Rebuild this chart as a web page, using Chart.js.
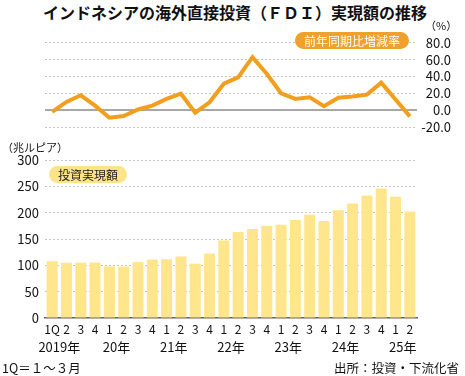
<!DOCTYPE html>
<html>
<head>
<meta charset="utf-8">
<script src="https://cdn.jsdelivr.net/npm/chart.js@4"></script>
<style>
  body { margin: 0; width: 465px; height: 376px; background: #fff; position: relative; overflow: hidden;
         font-family: 'Noto Sans CJK JP', 'Noto Sans', sans-serif; color: #111; }
  .abs { position: absolute; white-space: nowrap; }
  #title { left: 43px; top: 1px; font-size: 16px; font-weight: bold; line-height: 22px; }
  .pill { border-radius: 9px; font-size: 12px; line-height: 17px; text-align: center; }
  #pillRate { left: 295px; top: 32px; width: 114px; background: #F0A02C; color: #fff; }
  #pillAmount { left: 49px; top: 166px; width: 78px; background: #FDE48A; color: #222; }
  .small { font-size: 11px; line-height: 14px; }
  .foot { font-size: 12.5px; line-height: 16px; }
</style>
</head>
<body>
<div id="title" class="abs">インドネシアの海外直接投資（ＦＤＩ）実現額の推移</div>

<div class="abs" style="left:0;top:30px"><canvas id="rate" width="465" height="110"></canvas></div>
<div class="abs" style="left:0;top:140px"><canvas id="amount" width="465" height="220"></canvas></div>

<div class="abs small" style="left:425px;top:18px">（%）</div>
<div id="pillRate" class="abs pill">前年同期比増減率</div>
<div class="abs small" style="left:2px;top:140px">（兆ルピア）</div>
<div id="pillAmount" class="abs pill">投資実現額</div>
<div class="abs foot" style="left:2px;top:360px">1Q＝１～３月</div>
<div class="abs foot" style="right:6px;top:360px">出所：投資・下流化省</div>

<script>
// 2019年1Q 〜 2025年2Q
const quarters = ['1Q', '2', '3', '4', '1', '2', '3', '4', '1', '2', '3', '4', '1', '2', '3', '4',
                  '1', '2', '3', '4', '1', '2', '3', '4', '1', '2'];
const years = ['2019年', '20年', '21年', '22年', '23年', '24年', '25年'];

// 投資実現額（兆ルピア）
const amount = [107.9, 104.9, 105.0, 105.3, 98.0, 97.6, 106.1, 111.1, 111.7, 116.8, 103.2, 122.3,
                147.2, 163.2, 168.9, 175.2, 177.0, 186.3, 196.2, 184.4, 204.4, 217.3, 232.7, 245.8,
                230.4, 202.2];

// 前年同期比増減率（%）
const growthRate = [-1.9, 10.0, 17.8, 5.5, -8.8, -6.8, 1.0, 5.5, 13.5, 19.7, -2.8, 9.5,
                    31.5, 39.0, 63.0, 43.3, 20.2, 13.5, 15.5, 5.0, 15.0, 16.4, 18.6, 32.8,
                    12.8, -7.2];

const font = "'Noto Sans CJK JP', 'Noto Sans', sans-serif";
const gridGray = '#c4c4c4';

new Chart(document.getElementById('rate'), {
    type: 'line',
    data: {
        labels: quarters,
        datasets: [{
            data: growthRate,
            borderColor: '#F29E1E',
            borderWidth: 4,
            pointRadius: 0,
            tension: 0,
            fill: false
        }]
    },
    options: {
        responsive: false,
        animation: false,
        layout: { padding: { left: 45, right: 14, top: 11, bottom: 9 } },
        plugins: { legend: { display: false }, tooltip: { enabled: false } },
        scales: {
            x: { display: false, offset: true },
            y: {
                position: 'right',
                min: -20,
                max: 80,
                ticks: {
                    stepSize: 20,
                    autoSkip: false,
                    padding: 5,
                    crossAlign: 'far',
                    color: '#111',
                    font: { family: font, size: 13 },
                    callback: v => v.toFixed(1)
                },
                grid: {
                    drawTicks: false,
                    color: c => c.tick.value === 0 ? '#a8a8a8' : gridGray,
                    lineWidth: c => c.tick.value === 0 ? 2 : 1
                },
                border: { display: false, dash: c => c.tick.value === 0 ? [] : [2, 2] },
                afterFit: s => { s.width = 34; }
            }
        }
    }
});

// 年ラベルは1Qと2Qの間に置く
const yearLabels = {
    id: 'yearLabels',
    afterDraw(chart) {
        const x = chart.scales.x;
        const ctx = chart.ctx;
        ctx.save();
        ctx.font = '13px ' + font;
        ctx.fillStyle = '#111';
        ctx.textAlign = 'center';
        ctx.textBaseline = 'middle';
        years.forEach((y, i) => {
            ctx.fillText(y, x.getPixelForValue(i * 4 + 0.5), chart.chartArea.bottom + 29);
        });
        ctx.restore();
    }
};

new Chart(document.getElementById('amount'), {
    type: 'bar',
    data: {
        labels: quarters,
        datasets: [{
            data: amount,
            backgroundColor: '#FFE68C',
            categoryPercentage: 1,
            barPercentage: 0.77
        }]
    },
    options: {
        responsive: false,
        animation: false,
        layout: { padding: { left: 0, right: 48, top: 20, bottom: 0 } },
        plugins: { legend: { display: false }, tooltip: { enabled: false } },
        scales: {
            x: {
                grid: { display: false, drawTicks: false },
                border: { color: '#6b6157', width: 1.5 },
                ticks: {
                    padding: 4,
                    maxRotation: 0,
                    autoSkip: false,
                    color: '#111',
                    font: { family: font, size: 12 }
                },
                afterFit: s => { s.height = 42; }
            },
            y: {
                min: 0,
                max: 300,
                ticks: { stepSize: 50, autoSkip: false, padding: 6, color: '#111', font: { family: font, size: 13 } },
                grid: {
                    drawTicks: false,
                    color: c => c.tick.value === 0 ? 'rgba(0,0,0,0)' : gridGray
                },
                border: { display: false, dash: [2, 2] },
                afterFit: s => { s.width = 45; }
            }
        }
    },
    plugins: [yearLabels]
});
</script>
</body>
</html>
